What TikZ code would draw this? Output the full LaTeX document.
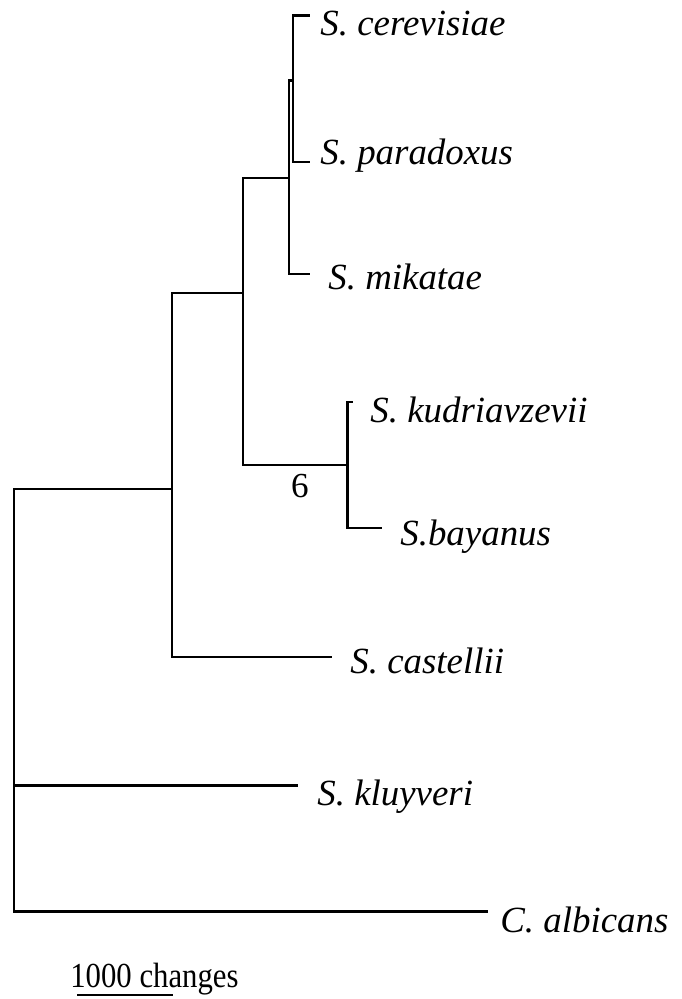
\documentclass[tikz,border=0pt]{standalone}
\usepackage{fontspec}
\setmainfont{Liberation Serif}
\newfontfamily\narrowserif[FakeStretch=0.875]{Liberation Serif}
\begin{document}
\begin{tikzpicture}[x=0.02cm, y=-0.02cm,
    taxon/.style={anchor=base west, inner sep=0pt,
                  font=\fontsize{21}{25}\selectfont\itshape},
    branch/.style={line width=1.7pt},
    plain/.style={inner sep=0pt, font=\fontsize{20}{24}\selectfont}
]
\useasboundingbox (0,0) rectangle (681,999);
\coordinate (R) at (14,700);
\coordinate (A) at (172,489);
\coordinate (B) at (243,293);
\coordinate (C) at (289,178);
\coordinate (D) at (293,81);
\coordinate (E) at (347,465);
\coordinate (tcer) at (310,16);
\coordinate (tpar) at (310,162);
\coordinate (tmik) at (310,274);
\coordinate (tkud) at (353,402);
\coordinate (tbay) at (382,528);
\coordinate (tcas) at (332,657);
\coordinate (tklu) at (298,785);
\coordinate (talb) at (488,911);
\node[taxon] (cer) at (320,36) {S. cerevisiae};
\node[taxon] (par) at (320,165) {S. paradoxus};
\node[taxon] (mik) at (328,290) {S. mikatae};
\node[taxon] (kud) at (370,422) {S. kudriavzevii};
\node[taxon] (bay) at (400,545) {S.bayanus};
\node[taxon] (cas) at (350,673) {S. castellii};
\node[taxon] (klu) at (317,805) {S. kluyveri};
\node[taxon] (alb) at (500,932) {C. albicans};
\node[plain, anchor=base] (boot) at (300,497) {6};
\draw[branch] (R) |- (A);
\draw[branch] (R) |- (tklu);
\draw[branch] (R) |- (talb);
\draw[branch] (A) |- (B);
\draw[branch] (A) |- (tcas);
\draw[branch] (B) |- (C);
\draw[branch] (B) |- (E);
\draw[branch] (C) |- (D);
\draw[branch] (C) |- (tmik);
\draw[branch] (D) |- (tcer);
\draw[branch] (D) |- (tpar);
\draw[branch] (E) |- (tkud);
\draw[branch] (E) |- (tbay);
\node[plain, anchor=base west, font=\fontsize{20}{24}\narrowserif] (scale) at (70,987) {1000 changes};
\coordinate (s0) at (77,995);
\coordinate (s1) at (173,995);
\draw[line width=1.4pt] (s0) -- (s1);
\end{tikzpicture}
\end{document}
